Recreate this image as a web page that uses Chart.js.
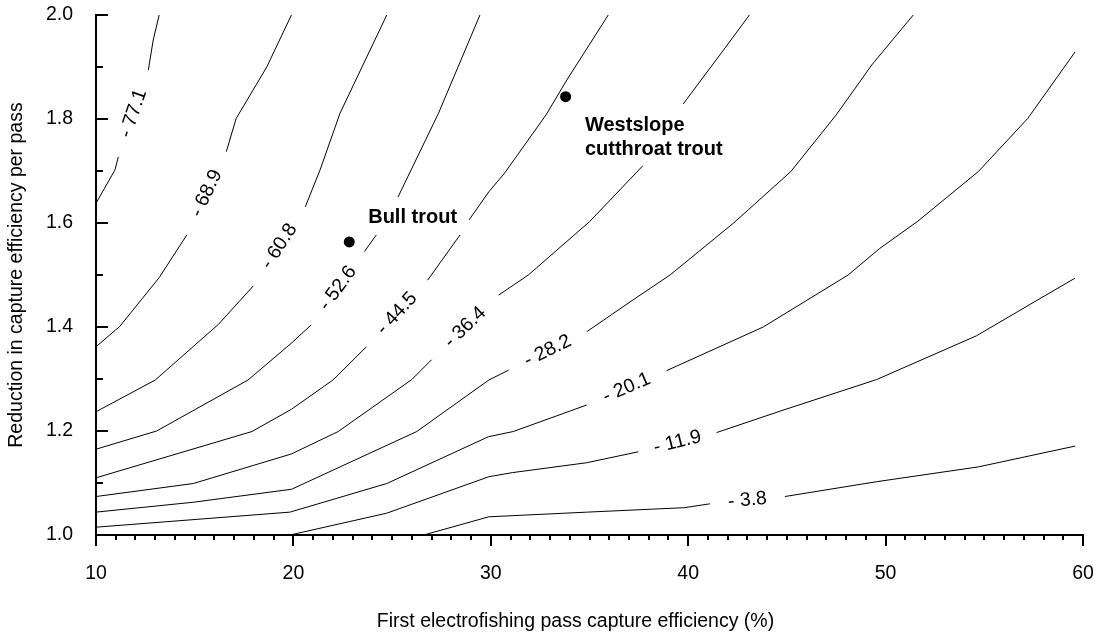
<!DOCTYPE html>
<html>
<head>
<meta charset="utf-8">
<title>Contour chart</title>
<script src="https://cdn.jsdelivr.net/npm/chart.js@4.4.0/dist/chart.umd.min.js"></script>
<style>
  html, body { margin: 0; padding: 0; background: #fff; }
  #wrap { width: 1103px; height: 637px; }
</style>
</head>
<body>
<div id="wrap"><canvas id="contour-chart" width="1103" height="637"></canvas></div>
<script>
// Contour levels and their traced lines ([x, y] pairs, null = break in the line)
const contourLevels = [-77.1, -68.9, -60.8, -52.6, -44.5, -36.4, -28.2, -20.1, -11.9, -3.8];

const line771 = [[10, 1.638], [10.96, 1.702], [11.13, 1.727], null, [12.65, 1.894], [12.9, 1.952], [13.2, 2.0]];
const line689 = [[10, 1.362], [11.2, 1.401], [13.2, 1.495], [14.6, 1.577], null, [16.6, 1.737], [17.1, 1.801], [18.65, 1.9], [19.9, 2.0]];
const line608 = [[10, 1.237], [13.0, 1.298], [16.2, 1.405], [17.97, 1.479], null, [20.6, 1.631], [21.35, 1.702], [22.36, 1.811], [24.73, 2.0]];
const line526 = [[10, 1.165], [13.07, 1.2], [17.7, 1.298], [19.9, 1.369], [20.9, 1.404], null, [23.6, 1.545], [24.2, 1.577], null, [25.3, 1.65], [27.35, 1.811], [29.45, 2.0]];
const line445 = [[10, 1.11], [17.9, 1.199], [19.91, 1.242], [22.0, 1.298], [23.7, 1.362], null, [26.8, 1.49], [28.44, 1.577], null, [28.9, 1.606], [29.9, 1.66], [30.7, 1.696], [32.8, 1.808], [33.85, 1.875], [35.95, 2.0]];
const line364 = [[10, 1.074], [14.93, 1.099], [19.91, 1.156], [22.27, 1.199], [26.0, 1.299], [27.0, 1.337], null, [30.4, 1.4615], [31.9, 1.5], [35.0, 1.6025], [37.7, 1.71], null, [39.75, 1.829], [41.6, 1.923], [43.1, 2.0]];
const line282 = [[10, 1.044], [14.93, 1.063], [19.91, 1.088], [26.25, 1.199], [29.9, 1.298], [30.9, 1.317], null, [34.86, 1.391], [37.2, 1.452], [39.08, 1.5], [42.3, 1.6], [45.2, 1.699], [47.5, 1.808], [49.3, 1.904], [51.4, 2.0]];
const line201 = [[10, 1.015], [19.83, 1.044], [24.73, 1.099], [29.88, 1.189], [31.14, 1.199], [34.86, 1.25], null, [38.9, 1.316], [43.8, 1.4], [48.1, 1.5], [49.7, 1.551], [51.6, 1.6025], [54.7, 1.699], [57.2, 1.801], [59.6, 1.929]];
const line119 = [[19.83, 1.0], [24.73, 1.042], [29.9, 1.112], [31.1, 1.12], [34.86, 1.139], [37.47, 1.16], null, [41.44, 1.197], [44.8, 1.24], [49.55, 1.299], [54.6, 1.383], [57.7, 1.452], [59.6, 1.494]];
const line38 = [[26.6, 1.0], [29.9, 1.035], [34.9, 1.044], [39.8, 1.0525], [41.1, 1.06], null, [44.9, 1.074], [49.55, 1.1025], [54.7, 1.131], [59.6, 1.171]];

const contourLines = [line771, line689, line608, line526, line445, line364, line282, line201, line119, line38];

// Species estimates
const speciesNames = [["Bull trout"], ["Westslope", "cutthroat trout"]];
const speciesX = [22.83, 33.79];
const speciesY = [1.5635, 1.843];
const speciesLabelX = [23.79, 34.77];
const speciesLabelY = [1.6115, 1.788];

// Axis ticks
const xMajorTicks = [10, 20, 30, 40, 50, 60];
const yMajorTicks = [1.0, 1.2, 1.4, 1.6, 1.8, 2.0];
const xTitle = "First electrofishing pass capture efficiency (%)";

const FONT = '"Liberation Sans", Arial, Helvetica, sans-serif';
Chart.defaults.font.family = FONT;
Chart.defaults.color = "#000";

const toPoint = (p, i, arr) => (p ? { x: p[0], y: p[1] } : { x: arr[i - 1][0], y: null });

const contourDatasets = contourLines.map((pts, i) => ({
  label: String(contourLevels[i]),
  data: pts.map(toPoint),
  showLine: true,
  spanGaps: false,
  borderColor: "#000",
  borderWidth: 1,
  pointRadius: 0,
  pointHoverRadius: 0,
}));

// tick marks: y ticks point into the plot, x ticks point down; minor ticks shorter
const tickMarks = {
  id: "tickMarks",
  afterDraw(chart) {
    const { ctx, chartArea, scales: { x, y } } = chart;
    ctx.save();
    ctx.strokeStyle = "#000";
    ctx.lineWidth = 2;
    ctx.beginPath();
    for (let v = 10; v <= 60; v++) {
      const px = Math.round(x.getPixelForValue(v));
      const len = v % 10 === 0 ? 11 : 5;
      ctx.moveTo(px, chartArea.bottom);
      ctx.lineTo(px, chartArea.bottom + len);
    }
    for (let k = 0; k <= 10; k++) {
      const py = Math.round(y.getPixelForValue(1 + k / 10));
      const len = k % 2 === 0 ? 12 : 7;
      ctx.moveTo(chartArea.left, py);
      ctx.lineTo(chartArea.left + len, py);
    }
    ctx.stroke();

    // x axis title sits a little left of the plot centre in the original
    ctx.fillStyle = "#000";
    ctx.font = "19.5px " + FONT;
    ctx.textAlign = "center";
    ctx.textBaseline = "middle";
    ctx.fillText(xTitle, (chartArea.left + chartArea.right) / 2 - 14, 622);
    ctx.restore();
  },
};

// contour values written into the first break of each line, species names beside their points
const contourLabels = {
  id: "contourLabels",
  afterDatasetsDraw(chart) {
    const { ctx, scales: { x, y } } = chart;
    ctx.save();
    ctx.fillStyle = "#000";
    ctx.textAlign = "center";
    ctx.textBaseline = "middle";
    ctx.font = "19.5px " + FONT;
    contourLines.forEach((pts, i) => {
      const gap = pts.indexOf(null);
      if (gap < 1) return;
      const a = pts[gap - 1];
      const b = pts[gap + 1];
      const ax = x.getPixelForValue(a[0]);
      const ay = y.getPixelForValue(a[1]);
      const bx = x.getPixelForValue(b[0]);
      const by = y.getPixelForValue(b[1]);
      ctx.save();
      ctx.translate((ax + bx) / 2, (ay + by) / 2);
      ctx.rotate(Math.atan2(by - ay, bx - ax));
      ctx.fillText("- " + Math.abs(contourLevels[i]).toFixed(1), 0, 0);
      ctx.restore();
    });

    ctx.font = "bold 20px " + FONT;
    ctx.textAlign = "left";
    speciesNames.forEach((lines, i) => {
      const lx = x.getPixelForValue(speciesLabelX[i]);
      const ly = y.getPixelForValue(speciesLabelY[i]);
      lines.forEach((t, j) => ctx.fillText(t, lx, ly + j * 24));
    });
    ctx.restore();
  },
};

const canvas = document.getElementById("contour-chart");

new Chart(canvas, {
  type: "scatter",
  data: {
    datasets: [
      ...contourDatasets,
      {
        label: "species",
        data: speciesX.map((v, i) => ({ x: v, y: speciesY[i] })),
        pointRadius: 5.5,
        pointHoverRadius: 5.5,
        pointBackgroundColor: "#000",
        pointBorderWidth: 0,
        showLine: false,
      },
    ],
  },
  options: {
    responsive: false,
    animation: false,
    events: [],
    layout: { padding: { top: 15, right: 20, left: 0, bottom: 0 } },
    plugins: {
      legend: { display: false },
      tooltip: { enabled: false },
    },
    scales: {
      x: {
        type: "linear",
        min: 10,
        max: 60,
        afterBuildTicks: (scale) => { scale.ticks = xMajorTicks.map((v) => ({ value: v })); },
        afterFit: (scale) => {
          scale.height = 102;
          scale.paddingLeft = 0;
          scale.paddingRight = 0;
        },
        grid: { display: false, drawTicks: false },
        border: { display: true, color: "#000", width: 2 },
        ticks: { font: { size: 19.5 }, padding: 27, maxRotation: 0, autoSkip: false },
        title: { display: false },
      },
      y: {
        type: "linear",
        min: 1,
        max: 2,
        afterBuildTicks: (scale) => { scale.ticks = yMajorTicks.map((v) => ({ value: v })); },
        afterFit: (scale) => {
          scale.width = 96;
          scale.paddingTop = 0;
          scale.paddingBottom = 0;
        },
        grid: { display: false, drawTicks: false },
        border: { display: true, color: "#000", width: 2 },
        ticks: {
          font: { size: 19.5 },
          padding: 23,
          autoSkip: false,
          callback: (v) => Number(v).toFixed(1),
        },
        title: {
          display: true,
          text: "Reduction in capture efficiency per pass",
          font: { size: 19.5 },
          padding: { top: 5, bottom: 0 },
        },
      },
    },
  },
  plugins: [tickMarks, contourLabels],
});
</script>
</body>
</html>
